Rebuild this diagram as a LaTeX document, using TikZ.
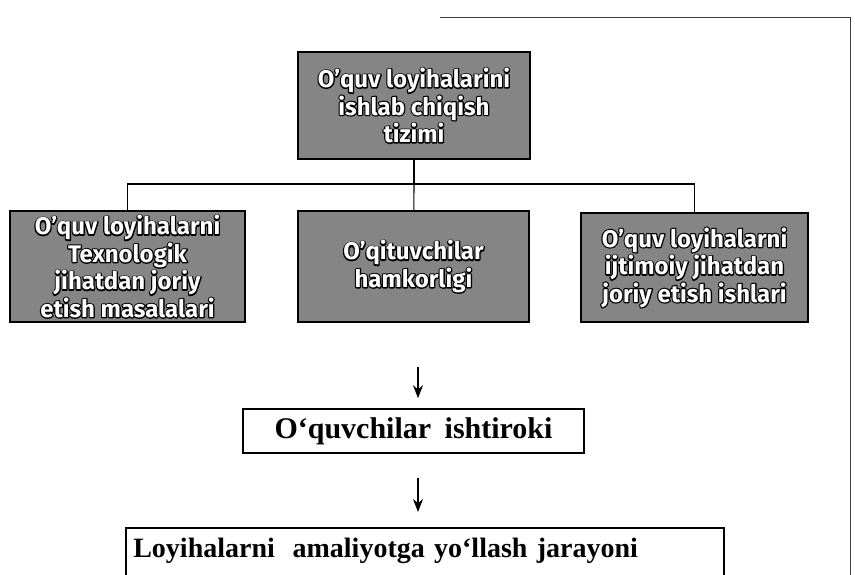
\documentclass[tikz,border=0pt]{standalone}
\usepackage{fontspec}
\setmainfont{Liberation Serif}
\newfontfamily\boxfont{Fira Sans}
\usetikzlibrary{arrows.meta}
% white letters with a black rim: stroked copy behind, filled copy on top
\newcommand{\outl}[1]{\makebox[0pt][l]{\special{pdf:literal direct 1 Tr 2.4 w 0 0 0 RG 1 J 1 j}#1\special{pdf:literal direct 0 Tr}}#1}
\begin{document}
\begin{tikzpicture}[x=1pt,y=-1pt,line width=1.1pt,
  gray box/.style={draw=black,line width=1.8pt,fill=black!48,align=center,inner sep=0pt,text=white,
    font=\boxfont\bfseries\fontsize{24}{27.5}\selectfont,minimum height=109pt},
  plain box/.style={draw=black,line width=1.6pt,fill=white,inner sep=0pt,font=\bfseries},
  arr/.style={-{Stealth[length=13pt,width=10pt]},line width=1.3pt}]
\useasboundingbox (0,0) rectangle (855,574);
\clip (0,0) rectangle (855,574);
% outer frame, only partly visible
\draw [black!75,line width=0.9pt] (440,17) -- (850,17) -- (850,580);
\node [gray box,minimum width=232pt,minimum height=107pt] (top) at (414,105.5)
  {\outl{O’quv loyihalarini}\\\outl{ishlab chiqish}\\\outl{tizimi}};
\node [gray box,minimum width=235pt,minimum height=111pt] (left) at (127.5,266.5)
  {\outl{O’quv loyihalarni}\\\outl{Texnologik}\\\outl{jihatdan joriy}\\\outl{etish masalalari}};
\node [gray box,minimum width=231pt,minimum height=111pt] (mid) at (413.5,266.5)
  {\outl{O’qituvchilar}\\\outl{hamkorligi}};
\node [gray box,minimum width=227pt,minimum height=109pt] (right) at (694.5,267.5)
  {\outl{O’quv loyihalarni}\\\outl{ijtimoiy jihatdan}\\\outl{joriy etish ishlari}};
\coordinate (split) at (414,184);
\draw (top) -- (split);
\draw (left.north) |- (split) -| (right.north);
\draw (split) -- (mid);
\node [plain box,minimum width=341pt,minimum height=44pt,font=\bfseries\fontsize{30}{34}\selectfont]
  (part) at (413.5,431) {O‘quvchilar\hspace{0.45em}ishtiroki};
\node [plain box,minimum width=598pt,minimum height=80pt,text width=583pt,align=left,
  anchor=north west,text depth=40pt,font=\bfseries\fontsize{28}{32}\selectfont]
  (real) at (125,527) {Loyihalarni\hspace{0.3em} amaliyotga yo‘llash jarayoni};
\coordinate (a1) at (418,367);
\coordinate (a2) at (418,478);
\draw [arr,shorten >=10pt] (a1) -- (a1 |- part.north);
\draw [arr,shorten >=15pt] (a2) -- (a2 |- real.north);
\end{tikzpicture}
\end{document}
